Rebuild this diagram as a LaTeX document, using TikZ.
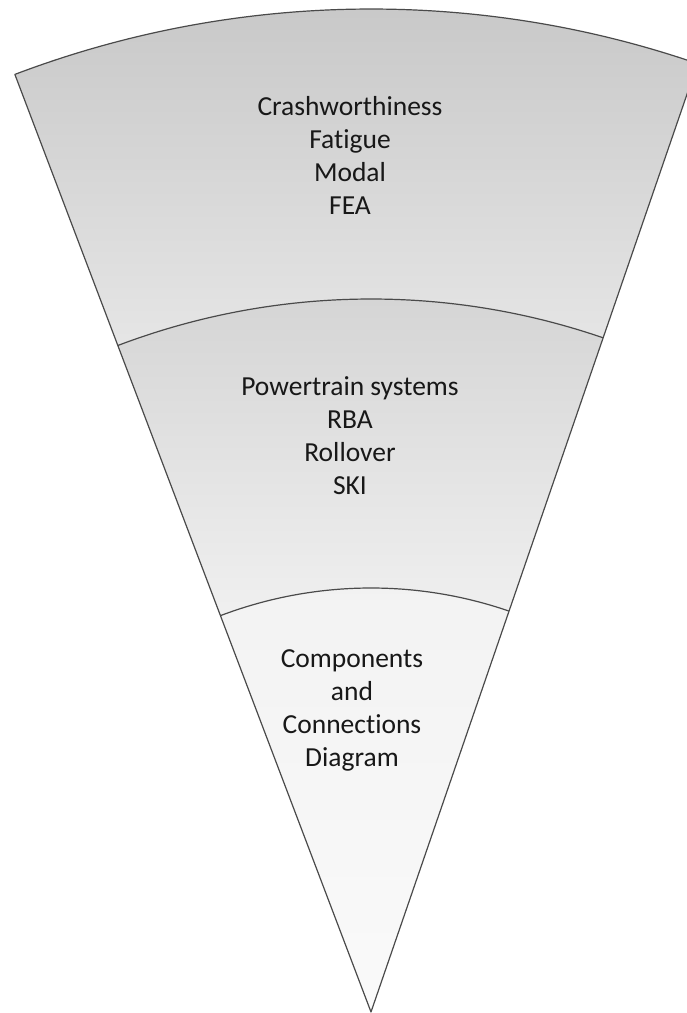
\documentclass[tikz,border=0pt]{standalone}
\usepackage{fontspec}
\setmainfont[Ligatures=NoCommon]{Carlito}
\usetikzlibrary{calc}
\definecolor{edgecol}{HTML}{4A4A4A}
\definecolor{txtcol}{HTML}{181818}
\tikzset{
  band/.style={draw=edgecol, line width=1.2pt, line join=round},
  bandtext/.style={align=center, text=txtcol, font=\fontsize{27.5}{33}\selectfont, inner sep=0pt},
}
\begin{document}
\begin{tikzpicture}[x=1pt,y=1pt]
\useasboundingbox (0,0) rectangle (687,1013);
\clip (0,0) rectangle (687,1013);
\coordinate (A) at (371,1);
\def\aR{71}
\def\aL{110.8}
% top band
\shade[top color=black!22, bottom color=black!10]
  ($(A)+(\aR:1003)$) arc[start angle=\aR, end angle=\aL, radius=1003]
  -- ($(A)+(\aL:713)$) arc[start angle=\aL, end angle=\aR, radius=713] -- cycle;
% middle band
\shade[top color=black!17, bottom color=black!6]
  ($(A)+(\aR:713)$) arc[start angle=\aR, end angle=\aL, radius=713]
  -- ($(A)+(\aL:424)$) arc[start angle=\aL, end angle=\aR, radius=424] -- cycle;
% bottom band
\shade[top color=black!5, bottom color=black!2]
  (A) -- ($(A)+(\aR:424)$) arc[start angle=\aR, end angle=\aL, radius=424] -- cycle;
% outlines
\draw[band] (A) -- ($(A)+(\aR:1003)$) arc[start angle=\aR, end angle=\aL, radius=1003] -- cycle;
\draw[band] ($(A)+(\aR:713)$) arc[start angle=\aR, end angle=\aL, radius=713];
\draw[band] ($(A)+(\aR:424)$) arc[start angle=\aR, end angle=\aL, radius=424];
% texts
\node[bandtext] (top) at (350,858) {Crashworthiness\\Fatigue\\Modal\\FEA};
\node[bandtext] (mid) at (350,577) {Powertrain systems\\RBA\\Rollover\\SKI};
\node[bandtext] (bot) at (352,303) {Components\\and\\Connections\\Diagram};
\end{tikzpicture}
\end{document}
